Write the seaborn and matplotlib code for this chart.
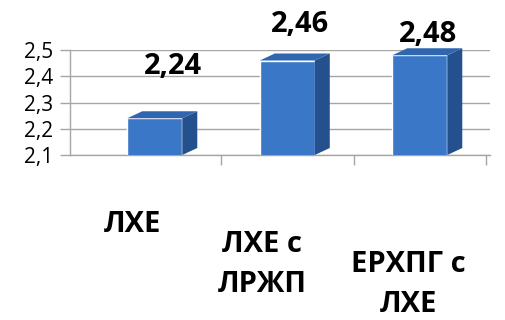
import numpy as np
import pandas as pd
import matplotlib
matplotlib.use("Agg")
import matplotlib.pyplot as plt
import seaborn as sns
from matplotlib.patches import Polygon
from matplotlib.transforms import IdentityTransform
from matplotlib.ticker import FuncFormatter, FixedLocator

categories = ["ЛХЕ", "ЛХЕ с\nЛРЖП", "ЕРХПГ с\nЛХЕ"]
values = [2.24, 2.46, 2.48]
value_labels = ["2,24", "2,46", "2,48"]
y_ticks = [2.1, 2.2, 2.3, 2.4, 2.5]

sns.set_theme(style="white")
plt.rcParams["font.family"] = ["Open Sans", "DejaVu Sans"]

W, H = 505, 320
fig = plt.figure(figsize=(W / 100, H / 100), dpi=100)
ax = fig.add_axes([70 / W, 1 - 155 / H, 420 / W, 105 / H])

df = pd.DataFrame({"cat": categories, "val": values})
sns.barplot(data=df, x="cat", y="val", color="#3a77c6", saturation=1,
            width=0.415, ax=ax, zorder=3)
ax.set_ylim(2.1, 2.5)
ax.set_xlim(-0.64, 2.53)

grid_col = "#a6a6a6"
ax.set_axisbelow(True)
ax.yaxis.set_major_locator(FixedLocator(y_ticks))
ax.yaxis.grid(True, color=grid_col, lw=1)
ax.yaxis.set_major_formatter(FuncFormatter(lambda v, p: f"{v:.1f}".replace(".", ",")))
ax.tick_params(axis="y", direction="out", length=7, width=1, color=grid_col,
               labelsize=15, pad=5, left=True, labelcolor="black")
ax.set_xticks([0.5, 1.5, 2.5])
ax.set_xticklabels(["", "", ""])
ax.tick_params(axis="x", direction="out", length=7, width=1, color=grid_col, bottom=True)
ax.set_xlabel("")
ax.set_ylabel("")
for s in ["top", "right"]:
    ax.spines[s].set_visible(False)
for s in ["left", "bottom"]:
    ax.spines[s].set_color(grid_col)
    ax.spines[s].set_linewidth(1)

# pseudo-3D faces derived from each bar's geometry
fig.canvas.draw()
dx, dy = 15, 7
ylo = ax.get_ylim()[0]
for p in ax.patches:
    x0 = p.get_x()
    x1 = x0 + p.get_width()
    top = p.get_y() + p.get_height()
    (X0, Y0), (X1, Y1) = ax.transData.transform([(x0, ylo), (x1, top)])
    side = Polygon([(X1, Y0), (X1 + dx, Y0 + dy), (X1 + dx, Y1 + dy), (X1, Y1)],
                   closed=True, transform=IdentityTransform(), facecolor="#24508d",
                   edgecolor="none", zorder=4, clip_on=False)
    topf = Polygon([(X0, Y1), (X1, Y1), (X1 + dx, Y1 + dy), (X0 + dx, Y1 + dy)],
                   closed=True, transform=IdentityTransform(), facecolor="#3066b0",
                   edgecolor="none", zorder=4, clip_on=False)
    ax.add_artist(side)
    ax.add_artist(topf)

label_offsets = [(13, 37), (9, 26), (6, 15)]
for i, (v, lab) in enumerate(zip(values, value_labels)):
    ax.annotate(lab, xy=(i, v), xytext=label_offsets[i], textcoords="offset points",
                ha="center", va="center", fontsize=21, fontweight="bold",
                color="black", annotation_clip=False)

cat_pos = [(133, 225), (262, 264), (408, 284)]
for (px, py), c in zip(cat_pos, categories):
    fig.text(px / W, 1 - py / H, c, ha="center", va="center", fontsize=21,
             fontweight="bold", linespacing=1.5, color="black")

fig.savefig("out.png", dpi=100)
